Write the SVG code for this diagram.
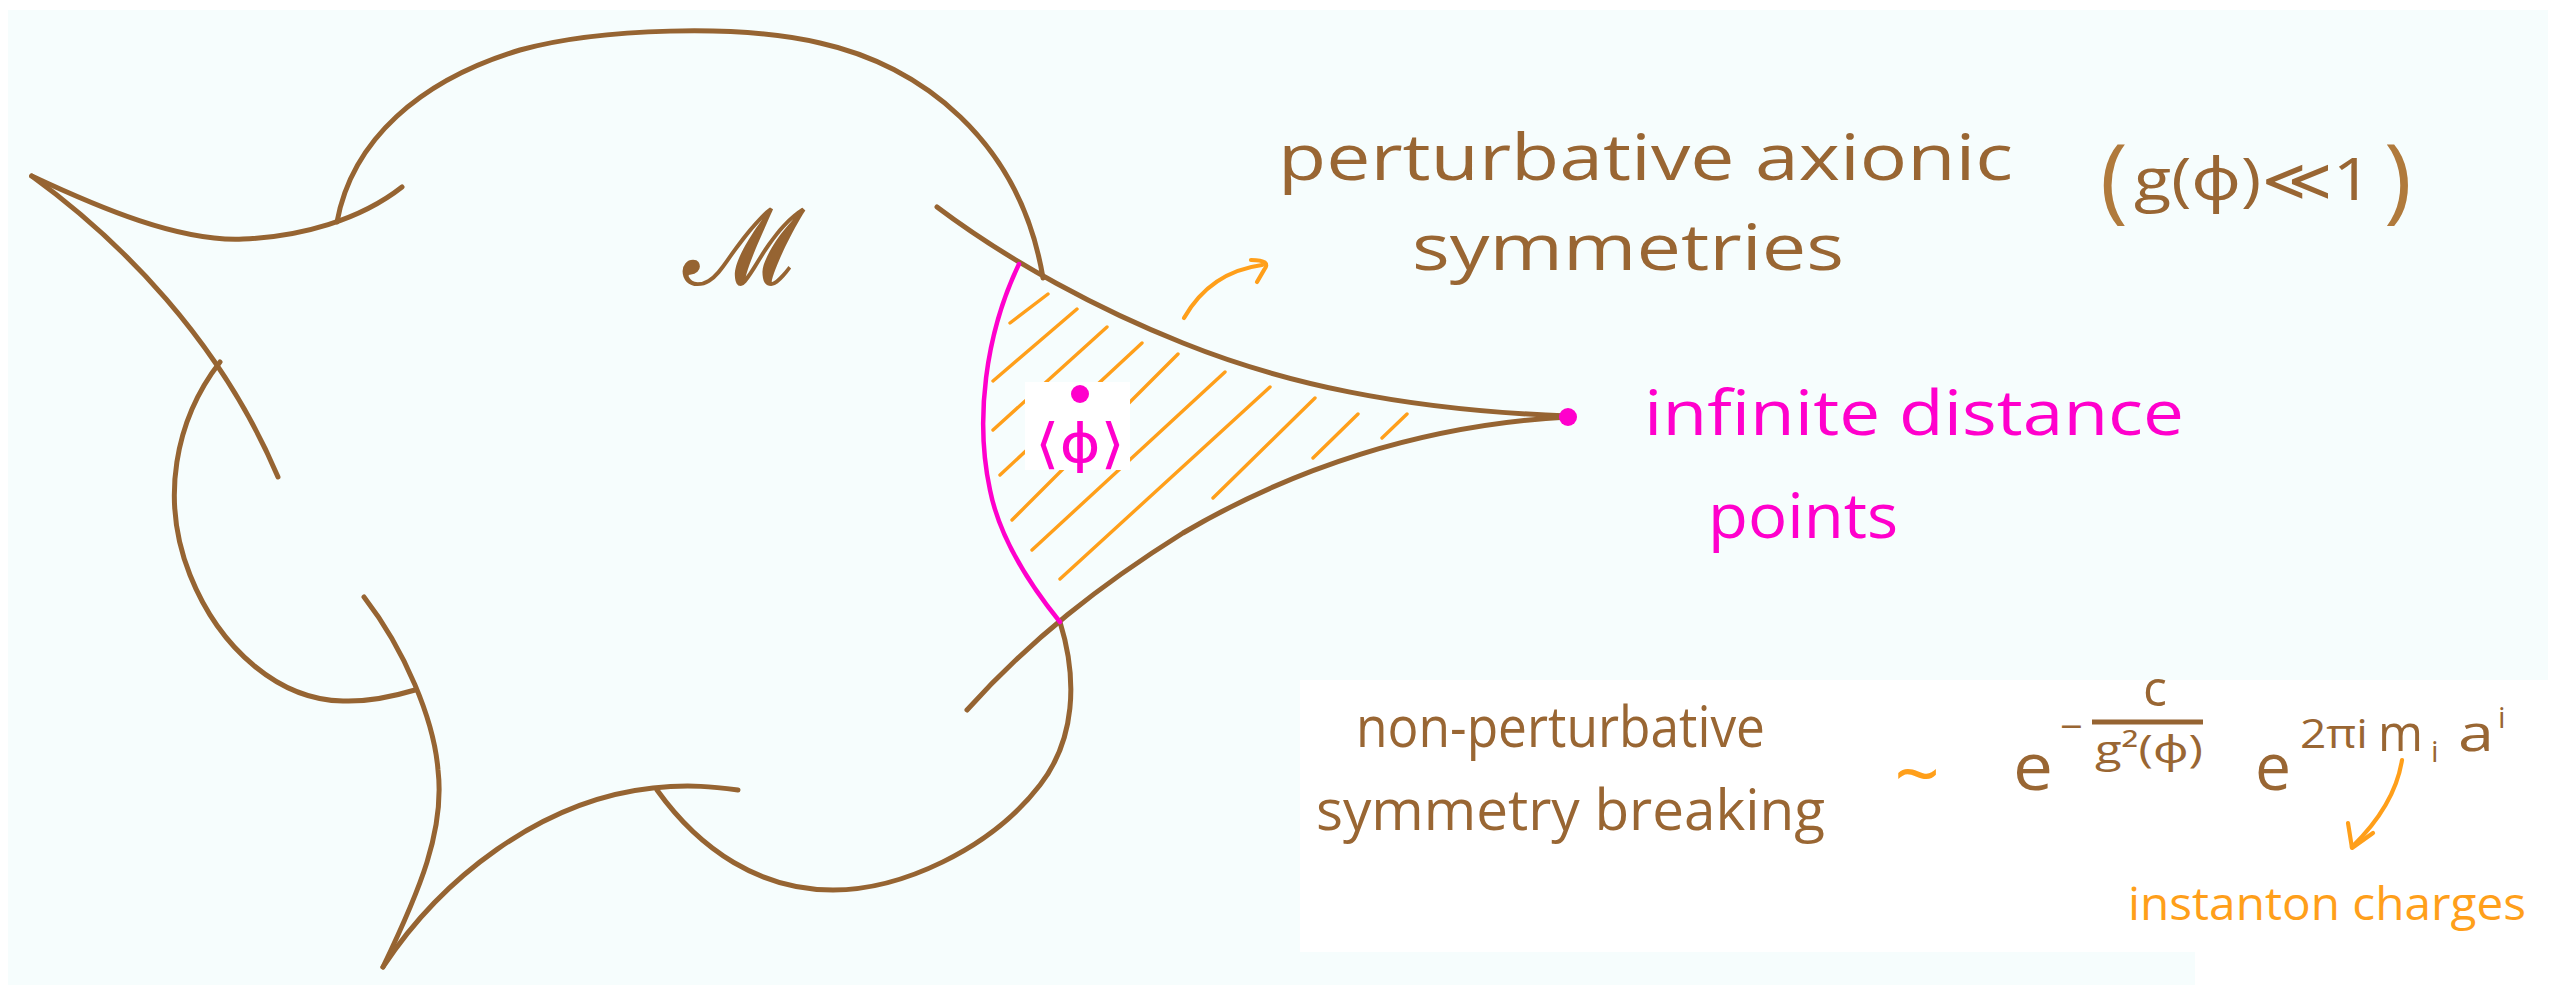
<svg xmlns="http://www.w3.org/2000/svg" width="2556" height="993" viewBox="0 0 2556 993">
<style>
.out{fill:none;stroke:#966432;stroke-width:5;stroke-linecap:round;stroke-linejoin:round}
.pink{fill:none;stroke:#ff00cc;stroke-width:4.5;stroke-linecap:round}
.hatch{fill:none;stroke:#ff9f1a;stroke-width:3.4;stroke-linecap:round}
.oarrow{fill:none;stroke:#ff9f1a;stroke-width:4.2;stroke-linecap:round;stroke-linejoin:round}
.hb{font-family:"Open Sans","Noto Sans","DejaVu Sans",sans-serif;fill:#996633}
.hp{font-family:"Open Sans","Noto Sans","DejaVu Sans",sans-serif;fill:#ff00cc}
.ho{font-family:"Open Sans","Noto Sans","DejaVu Sans",sans-serif;fill:#ff9f1a}
</style>
<rect x="0" y="0" width="2556" height="993" fill="#ffffff"/>
<rect x="8" y="10" width="2540" height="975" fill="#f6fdfd"/>
<rect x="1300" y="680" width="895" height="272" fill="#ffffff"/>
<rect x="2195" y="680" width="353" height="305" fill="#ffffff"/>

<g id="moduli-space">
<path class="out" d="M31.7,176 C100,208 180,242 243,239 C300,237 360,220 402,187"/>
<path class="out" d="M31.7,176 C120,240 220,340 278,477"/>
<path class="out" d="M337,222 C352,140 420,80 520,50 C600,28 740,24 820,43 C920,65 1020,140 1043,278"/>
<path class="out" d="M220,362 C175,420 160,500 190,575 C220,650 280,700 343,701 C370,702 395,696 415,690"/>
<path class="out" d="M383,967 C420,890 445,830 438,770 C434,720 405,650 364,597"/>
<path class="out" d="M383,967 C440,880 540,800 653,788 C690,784 715,787 738,790"/>
<path class="out" d="M1060,622 C1078,680 1075,740 1040,785 C990,850 900,890 833,890 C760,890 700,850 657,790"/>
<text x="684" y="284" font-family="DejaVu Serif, serif" font-size="104" fill="#966432" stroke="#966432" stroke-width="2">ℳ</text>
</g>

<g id="hatched-region">
<path class="hatch" d="M1010,323 L1048,294 M993,381 L1077,309 M993,430 L1107,327 M1000,475 L1142,343 M1012,520 L1178,354 M1032,550 L1225,372 M1060,579 L1270,387 M1213,498 L1315,398 M1313,458 L1358,414 M1382,438 L1407,414"/>
<path class="out" d="M937,207 C1010,262 1100,310 1183,343 C1280,382 1400,410 1568,416"/>
<path class="out" d="M967,710 C1030,640 1100,585 1183,533 C1290,470 1420,425 1568,417"/>
<path class="pink" d="M1019,264 C985,335 975,420 990,490 C1000,540 1030,585 1060,622"/>
<rect x="1025" y="382" width="105" height="88" fill="#ffffff"/>
<circle cx="1080" cy="394" r="9" fill="#ff00cc"/>
<text class="hp" x="1035" y="462" font-size="54" textLength="90" lengthAdjust="spacingAndGlyphs" style="font-family:'DejaVu Sans',sans-serif">⟨ϕ⟩</text>
</g>

<g id="infinite-point">
<circle cx="1568" cy="417" r="9" fill="#ff00cc"/>
<text class="hp" x="1644" y="435" font-size="62" textLength="540" lengthAdjust="spacingAndGlyphs">infinite distance</text>
<text class="hp" x="1708" y="538" font-size="62" textLength="190" lengthAdjust="spacingAndGlyphs">points</text>
</g>

<g id="perturbative-label">
<text class="hb" x="1278" y="180" font-size="64" textLength="735" lengthAdjust="spacingAndGlyphs">perturbative axionic</text>
<text class="hb" x="1412" y="270" font-size="64" textLength="432" lengthAdjust="spacingAndGlyphs">symmetries</text>
<text class="hb" x="2100" y="211" font-size="94" style="fill:#b07a3c">(</text>
<text class="hb" x="2134" y="200" font-size="58" textLength="238" lengthAdjust="spacingAndGlyphs">g(ϕ)≪1</text>
<text class="hb" x="2384" y="211" font-size="94" style="fill:#b07a3c">)</text>
</g>

<g id="nonperturbative-label">
<text class="hb" x="1356" y="747" font-size="56" textLength="409" lengthAdjust="spacingAndGlyphs">non-perturbative</text>
<text class="hb" x="1316" y="830" font-size="56" textLength="509" lengthAdjust="spacingAndGlyphs">symmetry breaking</text>
<text class="ho" x="1917" y="802" font-size="80" text-anchor="middle">~</text>
</g>

<g id="formula">
<text class="hb" x="2013" y="790" font-size="66" textLength="40" lengthAdjust="spacingAndGlyphs">e</text>
<text class="hb" x="2060" y="741" font-size="40">−</text>
<text class="hb" x="2155" y="706" font-size="50" text-anchor="middle">c</text>
<line x1="2092" y1="722" x2="2203" y2="722" stroke="#966432" stroke-width="5"/>
<text class="hb" x="2095" y="763" font-size="38" textLength="108" lengthAdjust="spacingAndGlyphs">g²(ϕ)</text>
<text class="hb" x="2255" y="790" font-size="66" textLength="36" lengthAdjust="spacingAndGlyphs">e</text>
<text class="hb" x="2300" y="748" font-size="40" textLength="68" lengthAdjust="spacingAndGlyphs">2πi</text>
<text class="hb" x="2378" y="751" font-size="52" textLength="45" lengthAdjust="spacingAndGlyphs">m</text>
<text class="hb" x="2431" y="762" font-size="30">i</text>
<text class="hb" x="2458" y="751" font-size="52" textLength="36" lengthAdjust="spacingAndGlyphs">a</text>
<text class="hb" x="2498" y="728" font-size="30">i</text>
</g>

<g id="instanton-label">
<text class="ho" x="2128" y="920" font-size="46" textLength="398" lengthAdjust="spacingAndGlyphs">instanton charges</text>
</g>

<g id="connectors">
<path class="oarrow" d="M1184,318 C1200,290 1225,270 1262,265"/>
<path class="oarrow" d="M1251,260 Q1272,260 1264,270 L1257,282"/>
<path class="oarrow" d="M2402,760 Q2395,805 2352,847"/>
<path class="oarrow" d="M2348,823 L2352,848 L2373,833"/>
</g>
</svg>
